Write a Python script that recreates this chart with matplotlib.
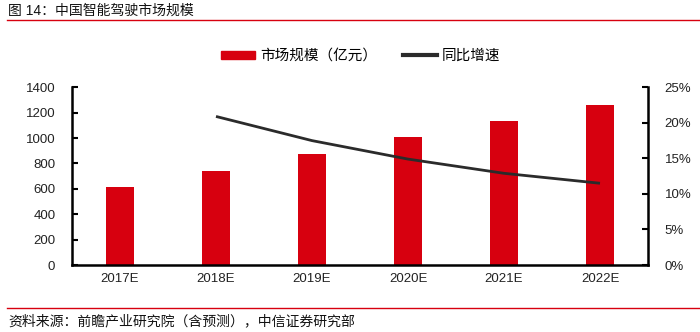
import matplotlib
matplotlib.use("Agg")
import matplotlib.pyplot as plt
from matplotlib.ticker import FuncFormatter, MultipleLocator
from matplotlib.lines import Line2D
from matplotlib.patches import Patch

plt.rcParams["font.family"] = ["Liberation Sans", "Noto Sans CJK SC", "DejaVu Sans"]

years = ["2017E", "2018E", "2019E", "2020E", "2021E", "2022E"]
market_size = [612, 740, 872, 1006, 1134, 1263]   # 亿元
growth_years = ["2018E", "2019E", "2020E", "2021E", "2022E"]
growth = [0.209, 0.175, 0.149, 0.129, 0.115]

RED = "#d7000f"
LINE = "#2b2b2b"

fig = plt.figure(figsize=(7, 3.32), dpi=100)
ax = fig.add_axes([72 / 700, 67 / 332, 576 / 700, 177.7 / 332])
ax2 = ax.twinx()

x = list(range(len(years)))
ax.bar(x, market_size, width=0.3, color=RED, zorder=2)
gx = [years.index(y) for y in growth_years]
ax2.plot(gx, growth, color=LINE, lw=2.0, solid_capstyle="butt", zorder=3)

ax.set_xlim(-0.5, len(years) - 0.5)
ax.set_ylim(0, 1400)
ax.yaxis.set_major_locator(MultipleLocator(200))
ax2.set_ylim(0, 0.25)
ax2.yaxis.set_major_locator(MultipleLocator(0.05))
ax2.yaxis.set_major_formatter(FuncFormatter(lambda v, p: "{0:.0f}%".format(v * 100)))

ax.set_xticks(x)
ax.set_xticklabels(years)
ax.tick_params(axis="x", length=0, pad=6, labelsize=9.5, colors="#222222")
ax.tick_params(axis="y", direction="in", length=4, width=1.5, pad=12, labelsize=9.5,
               labelcolor="#222222")
ax2.tick_params(axis="y", direction="in", length=4, width=1.5, pad=12, labelsize=9.5,
                labelcolor="#222222")

for a in (ax, ax2):
    a.spines["top"].set_visible(False)
    for s in ("left", "right", "bottom"):
        a.spines[s].set_linewidth(1.8)
ax.spines["right"].set_visible(False)
ax2.spines["left"].set_visible(False)
ax2.spines["bottom"].set_visible(False)

handles = [Patch(color=RED), Line2D([0], [0], color=LINE, lw=3)]
fig.legend(handles, ["市场规模（亿元）", "同比增速"], loc="center",
           bbox_to_anchor=(361 / 700, 1 - 56 / 332), ncol=2, frameon=False,
           fontsize=10.5, handlelength=2.3, handleheight=0.5, columnspacing=1.8,
           handletextpad=0.35, borderpad=0)

# header / footer like the research report style
fig.text(8 / 700, 1 - 11 / 332, "图 14：中国智能驾驶市场规模", fontsize=10,
         va="center", ha="left", color="#111111")
fig.add_artist(Line2D([7 / 700, 1], [1 - 19.5 / 332] * 2, color=RED, lw=1.0))
fig.add_artist(Line2D([7 / 700, 1], [1 - 307.5 / 332] * 2, color=RED, lw=1.0))
fig.text(8 / 700, 1 - 321 / 332, "资料来源：前瞻产业研究院（含预测），中信证券研究部",
         fontsize=10, va="center", ha="left", color="#111111")

fig.savefig("out.png", dpi=100)
